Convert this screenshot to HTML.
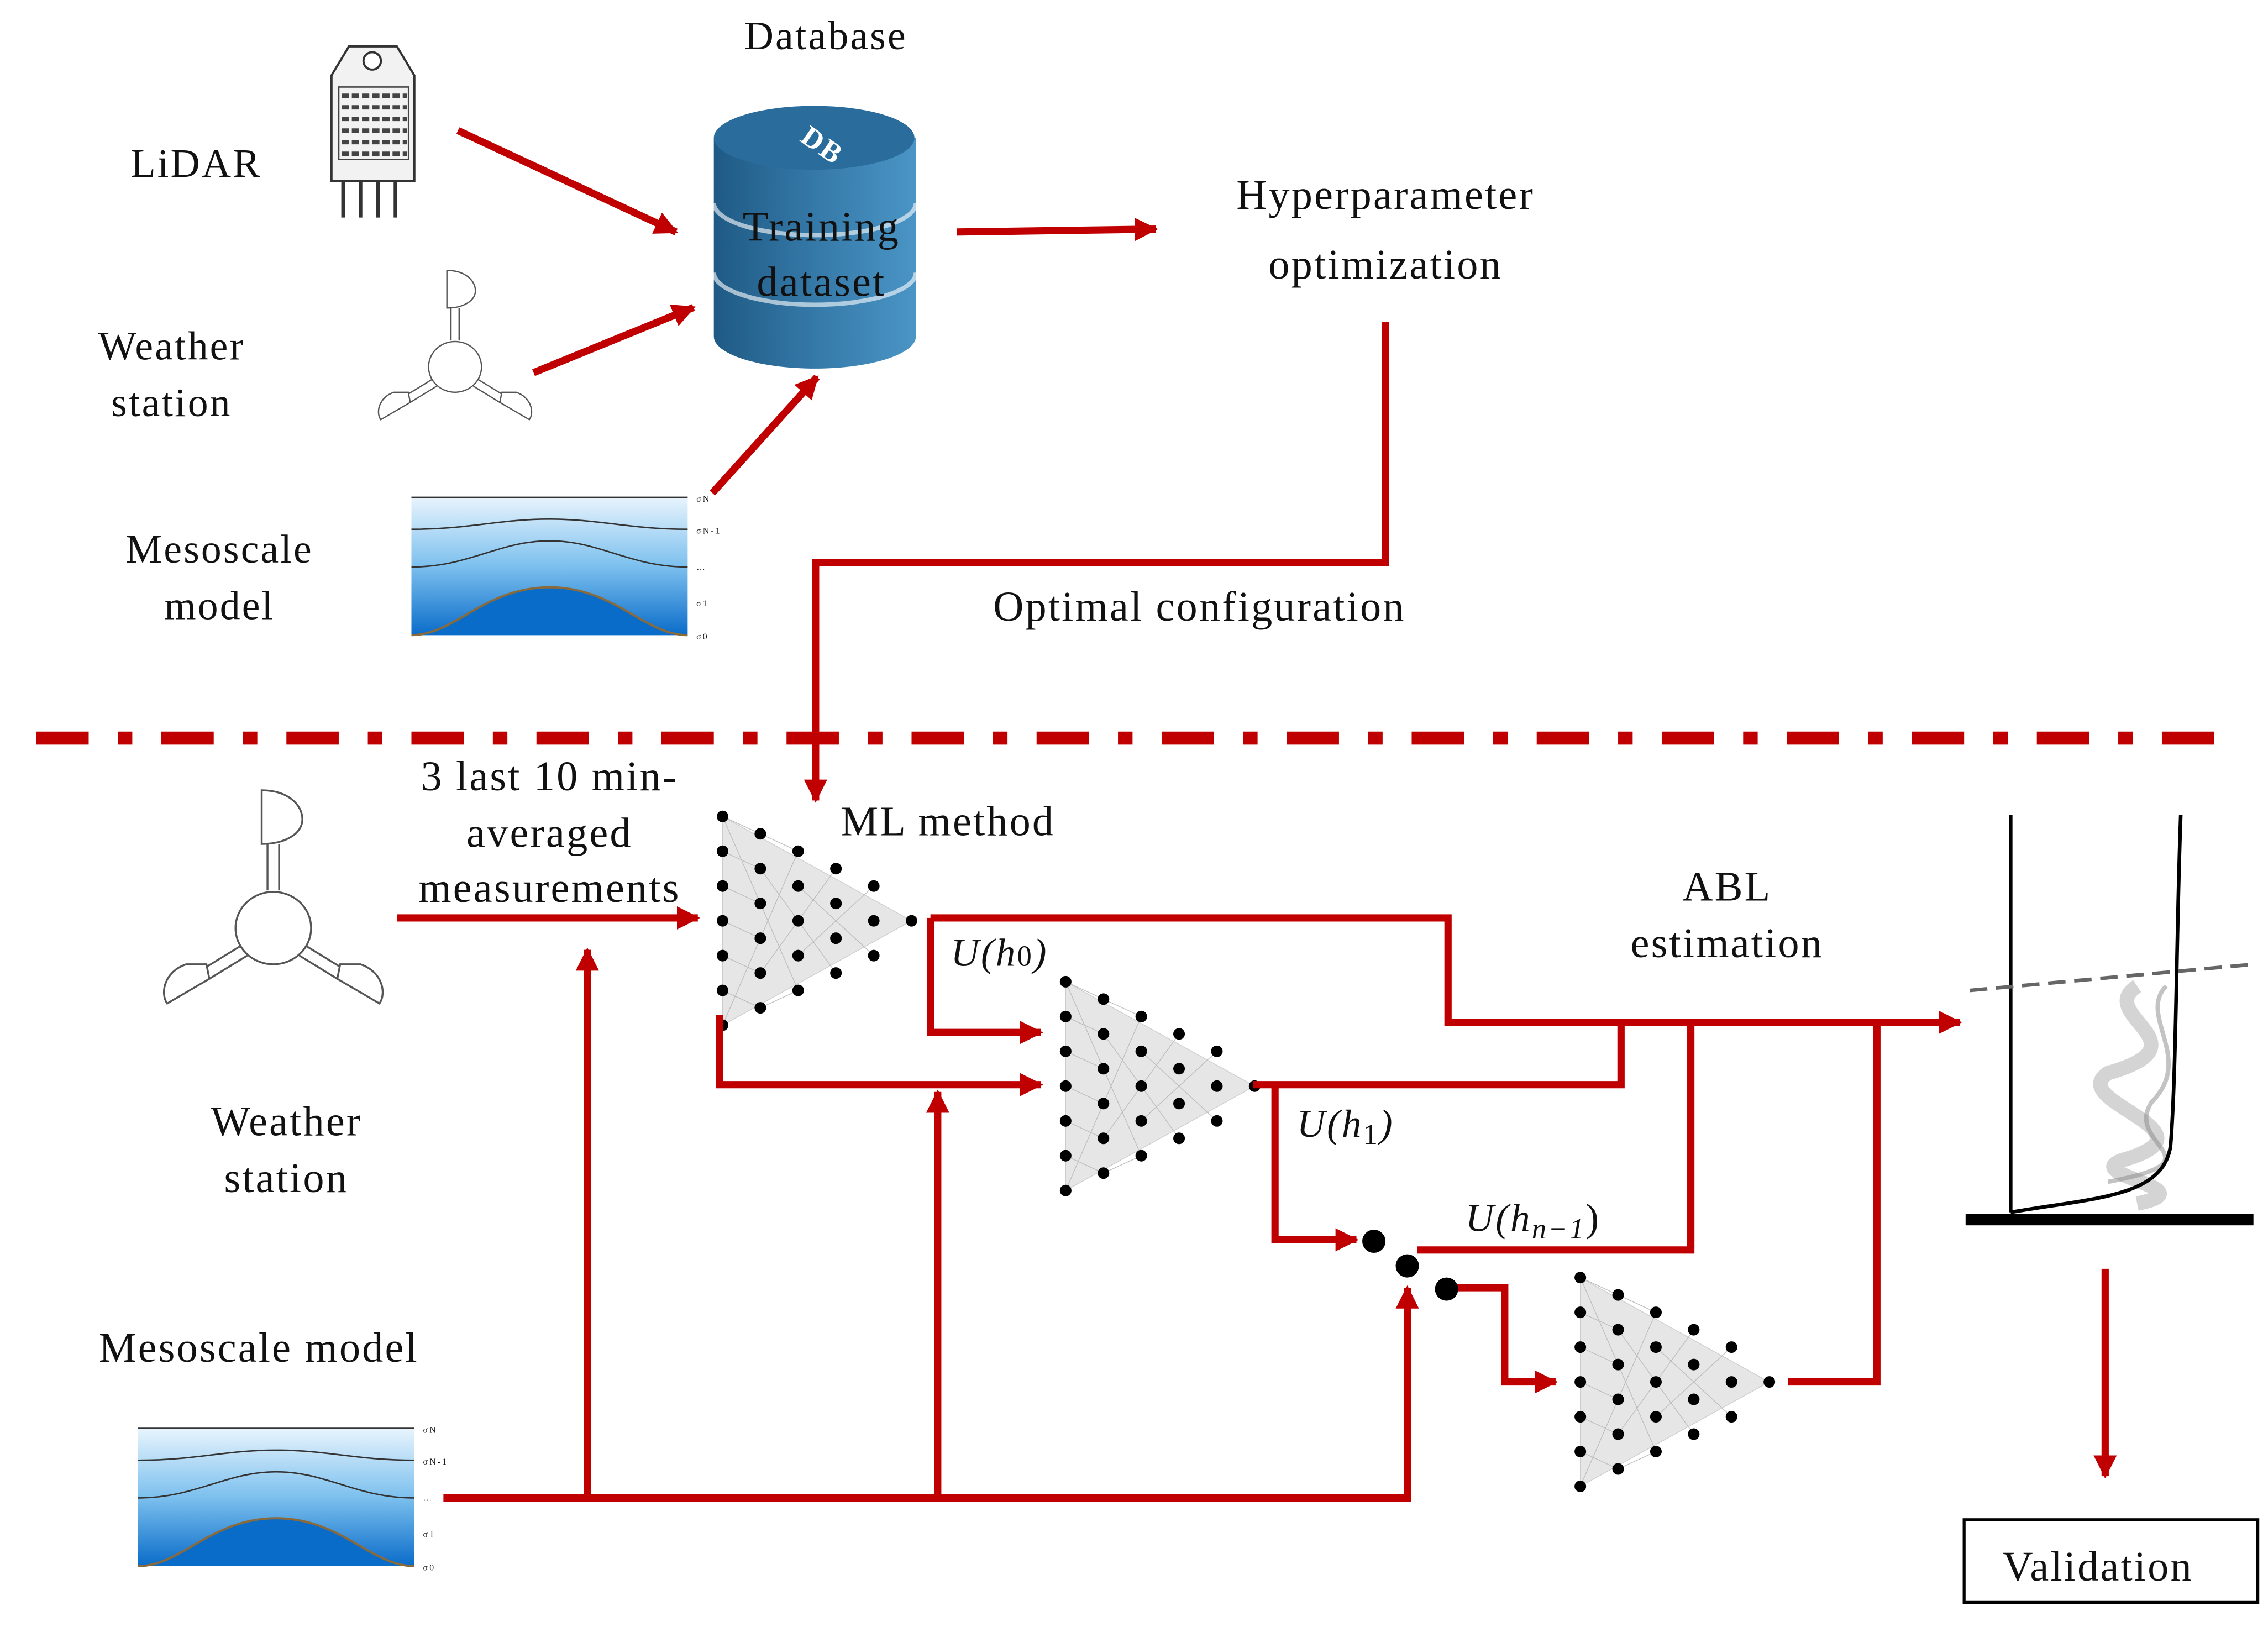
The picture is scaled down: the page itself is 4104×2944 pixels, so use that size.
<!DOCTYPE html>
<html><head><meta charset="utf-8"><style>
html,body{margin:0;padding:0;background:#fff}
svg{display:block}
text{font-family:"Liberation Serif",serif;fill:#111;letter-spacing:1.2px}
</style></head><body>
<svg width="4104" height="2944" viewBox="0 0 1560 1122" preserveAspectRatio="none" xmlns="http://www.w3.org/2000/svg">
<defs>
<marker id="ah" viewBox="0 0 10 10" refX="9" refY="5" markerWidth="3.2" markerHeight="3.2" orient="auto" markerUnits="strokeWidth"><path d="M0,0 L10,5 L0,10 z" fill="#c00000"/></marker>
<linearGradient id="dbg" x1="0" x2="1"><stop offset="0" stop-color="#1f5a85"/><stop offset="0.5" stop-color="#3579a8"/><stop offset="1" stop-color="#4a95c6"/></linearGradient>
<linearGradient id="seag" x1="0" y1="0" x2="0" y2="1"><stop offset="0" stop-color="#e8f4fd"/><stop offset="0.5" stop-color="#7cc0ee"/><stop offset="1" stop-color="#0a6cc9"/></linearGradient>
<g id="nn">
<polygon points="0,0 130,72 0,144" fill="#e6e6e6" stroke="#ccc" stroke-width="0.5"/>
<path d="M0,0 L26,12 M0,24 L26,36 M0,48 L26,60 M0,72 L26,84 M0,96 L26,108 M0,120 L26,132 M26,12 L52,24 M26,132 L52,120 M0,0 L52,120 M0,144 L52,24 M26,36 L78,108 M26,108 L78,36 M52,48 L104,96 M52,96 L104,48" stroke="#bbb" stroke-width="0.5"/>
<g fill="#000">
<circle cx="0" cy="0" r="4"/><circle cx="0" cy="24" r="4"/><circle cx="0" cy="48" r="4"/><circle cx="0" cy="72" r="4"/><circle cx="0" cy="96" r="4"/><circle cx="0" cy="120" r="4"/><circle cx="0" cy="144" r="4"/>
<circle cx="26" cy="12" r="4"/><circle cx="26" cy="36" r="4"/><circle cx="26" cy="60" r="4"/><circle cx="26" cy="84" r="4"/><circle cx="26" cy="108" r="4"/><circle cx="26" cy="132" r="4"/>
<circle cx="52" cy="24" r="4"/><circle cx="52" cy="48" r="4"/><circle cx="52" cy="72" r="4"/><circle cx="52" cy="96" r="4"/><circle cx="52" cy="120" r="4"/>
<circle cx="78" cy="36" r="4"/><circle cx="78" cy="60" r="4"/><circle cx="78" cy="84" r="4"/><circle cx="78" cy="108" r="4"/>
<circle cx="104" cy="48" r="4"/><circle cx="104" cy="72" r="4"/><circle cx="104" cy="96" r="4"/>
<circle cx="130" cy="72" r="4"/>
</g></g>
<g id="sea">
<path d="M0,0 H190 V95 H0 Z" fill="url(#seag)"/>
<path d="M0,0 H190" stroke="#333" stroke-width="1"/>
<path d="M0,22 C40,22 60,15 95,15 C130,15 150,22 190,22" fill="none" stroke="#333" stroke-width="1"/>
<path d="M0,48 C40,48 60,30 95,30 C130,30 150,48 190,48" fill="none" stroke="#333" stroke-width="1"/>
<path d="M0,95 C30,95 50,62 95,62 C140,62 160,95 190,95" fill="#0a6cc9" stroke="#8a6a3a" stroke-width="1.5"/>
<text x="196" y="3" font-size="6">σN</text><text x="196" y="25" font-size="6">σN-1</text><text x="196" y="50" font-size="6">…</text><text x="196" y="75" font-size="6">σ1</text><text x="196" y="98" font-size="6">σ0</text>
</g>
<g id="ws" fill="#fff" stroke="#555" stroke-width="1.3">
<path d="M-4,-26 V-58 M4,-26 V-58"/>
<path d="M-8,-58 V-95 C10,-95 20,-85 20,-75 C20,-65 8,-58 -8,-58 Z"/>
<path d="M-22,12 L-48,28 M-18,19 L-44,35"/>
<path d="M22,12 L48,28 M18,19 L44,35"/>
<path d="M-44,35 L-73,52 C-78,45 -75,30 -60,25 L-46,25 Z"/>
<path d="M44,35 L73,52 C78,45 75,30 60,25 L46,25 Z"/>
<ellipse cx="0" cy="0" rx="26" ry="25"/>
</g>
</defs>

<text x="568" y="34" font-size="28" text-anchor="middle">Database</text>
<text x="135" y="122" font-size="28" text-anchor="middle">LiDAR</text>
<g stroke="#333" stroke-width="1.5" fill="#eee">
<path d="M228,52 L240,32 H273 L285,52 V125 H228 Z" fill="#f2f2f2"/>
<circle cx="256" cy="42" r="6" fill="#fff"/>
<path d="M236,125 V150 M248,125 V150 M260,125 V150 M272,125 V150" fill="none" stroke-width="2.5"/>
</g>
<g fill="#444"><rect x="233" y="60" width="48" height="50" fill="none" stroke="#444"/><path d="M235,66h45M235,74h45M235,82h45M235,90h45M235,98h45M235,106h45" stroke="#444" stroke-width="3" stroke-dasharray="5,2"/></g>

<text x="118" y="248" font-size="28" text-anchor="middle">Weather</text>
<text x="118" y="287" font-size="28" text-anchor="middle">station</text>
<use href="#ws" transform="translate(313,253) scale(0.7)"/>
<text x="151" y="388" font-size="28" text-anchor="middle">Mesoscale</text>
<text x="151" y="427" font-size="28" text-anchor="middle">model</text>
<use href="#sea" transform="translate(283,343)"/>

<path d="M491,95 V232 A69,22 0 0 0 630,232 V95 Z" fill="url(#dbg)"/>
<ellipse cx="560" cy="95" rx="69" ry="22" fill="#2a6c9c"/>
<path d="M491,140 A69,22 0 0 0 630,140 M491,188 A69,22 0 0 0 630,188" stroke="#fff" stroke-width="3" fill="none" opacity="0.6"/>
<text x="553" y="98" font-size="20" font-weight="bold" transform="rotate(35 553 92)" style="fill:#fff">DB</text>
<text x="565" y="166" font-size="29" text-anchor="middle">Training</text>
<text x="565" y="204" font-size="29" text-anchor="middle">dataset</text>

<text x="953" y="144" font-size="29" text-anchor="middle">Hyperparameter</text>
<text x="953" y="192" font-size="29" text-anchor="middle">optimization</text>
<text x="825" y="428" font-size="29" text-anchor="middle">Optimal configuration</text>

<g stroke="#c00000" stroke-width="5" fill="none">
<path d="M315,90 L465,160" marker-end="url(#ah)"/>
<path d="M367,257 L477,212" marker-end="url(#ah)"/>
<path d="M490,340 L562,260" marker-end="url(#ah)"/>
<path d="M658,160 L795,158" marker-end="url(#ah)"/>
<path d="M953,222 V388 H561 V552" marker-end="url(#ah)"/>
</g>
<path d="M25,509 H1530" stroke="#c00000" stroke-width="9" stroke-dasharray="36,20,10,20"/>

<use href="#ws" transform="translate(188,640)"/>
<text x="197" y="783" font-size="29" text-anchor="middle">Weather</text>
<text x="197" y="822" font-size="29" text-anchor="middle">station</text>
<text x="178" y="939" font-size="29" text-anchor="middle">Mesoscale model</text>
<use href="#sea" transform="translate(95,985)"/>

<text x="378" y="545" font-size="29" text-anchor="middle">3 last 10 min-</text>
<text x="378" y="584" font-size="29" text-anchor="middle">averaged</text>
<text x="378" y="622" font-size="29" text-anchor="middle">measurements</text>
<text x="652" y="576" font-size="29" text-anchor="middle">ML method</text>
<text x="1188" y="621" font-size="29" text-anchor="middle">ABL</text>
<text x="1188" y="660" font-size="29" text-anchor="middle">estimation</text>
<text x="654" y="666" font-size="27" font-style="italic">U(h<tspan font-size="20" font-style="normal">0</tspan>)</text>
<text x="892" y="784" font-size="27" font-style="italic">U(h<tspan font-size="20" dy="5" font-style="normal">1</tspan><tspan dy="-5">)</tspan></text>
<text x="1008" y="849" font-size="27" font-style="italic">U(h<tspan font-size="20" dy="5">n−1</tspan><tspan dy="-5" font-style="normal">)</tspan></text>

<use href="#nn" transform="translate(497,563)"/>
<use href="#nn" transform="translate(733,677)"/>
<use href="#nn" transform="translate(1087,881)"/>

<g stroke="#c00000" stroke-width="5" fill="none">
<path d="M273,633 H480" marker-end="url(#ah)"/>
<path d="M640,633 H996 V705 H1348" marker-end="url(#ah)"/>
<path d="M640,633 V712 H716" marker-end="url(#ah)"/>
<path d="M495,700 V748 H716" marker-end="url(#ah)"/>
<path d="M862,748 H1115 V705"/>
<path d="M877,748 V855 H933" marker-end="url(#ah)"/>
<path d="M975,862 H1163 V705"/>
<path d="M995,888 H1035 V953 H1070" marker-end="url(#ah)"/>
<path d="M1230,953 H1291 V705"/>
<path d="M305,1033 H968 V888" marker-end="url(#ah)"/>
<path d="M404,1033 V655" marker-end="url(#ah)"/>
<path d="M645,1033 V753" marker-end="url(#ah)"/>
<path d="M1448,875 V1018" marker-end="url(#ah)"/>
</g>
<circle cx="945" cy="856" r="8" fill="#000"/>
<circle cx="968" cy="873" r="8" fill="#000"/>
<circle cx="995" cy="889" r="8" fill="#000"/>

<g>
<path d="M1470,680 C1440,700 1520,720 1450,740 C1420,760 1530,780 1460,800 C1430,810 1520,820 1470,830" stroke="#aaa" stroke-width="10" fill="none" opacity="0.5"/>
<path d="M1490,680 C1470,700 1510,730 1480,760 C1460,790 1530,800 1450,815" stroke="#888" stroke-width="3" fill="none" opacity="0.5"/>
<path d="M1383,562 V836" stroke="#000" stroke-width="2.5"/>
<path d="M1383,836 C1440,826 1488,826 1493,790 C1497,740 1497,640 1500,562" stroke="#000" stroke-width="2.5" fill="none"/>
<path d="M1355,683 L1550,665" stroke="#666" stroke-width="2.5" stroke-dasharray="12,6"/>
<rect x="1352" y="837" width="198" height="8" fill="#000"/>
</g>
<rect x="1351" y="1048" width="202" height="57" fill="#fff" stroke="#000" stroke-width="2"/>
<text x="1443" y="1090" font-size="29" text-anchor="middle">Validation</text>
</svg>
</body></html>
